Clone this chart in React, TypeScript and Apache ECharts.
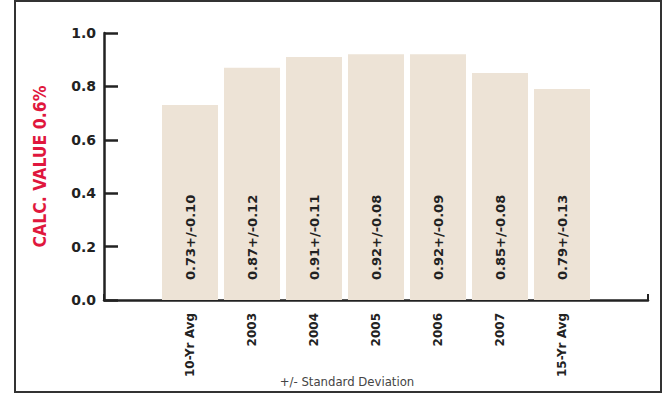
import React, { useEffect, useRef } from "react";
import * as echarts from "echarts";

const categories = ["10-Yr Avg", "2003", "2004", "2005", "2006", "2007", "15-Yr Avg"];
const values = [0.73, 0.87, 0.91, 0.92, 0.92, 0.85, 0.79];
const deviations = ["0.10", "0.12", "0.11", "0.08", "0.09", "0.08", "0.13"];
const yTicks = [0, 0.2, 0.4, 0.6, 0.8, 1.0];

export default function App() {
  const ref = useRef<HTMLDivElement>(null);
  useEffect(() => {
    if (!ref.current) return;
    const chart = echarts.init(ref.current, null, { renderer: "svg" });
    const dark = "#222";
    chart.setOption({
      animation: false,
      backgroundColor: "#fff",
      grid: [
        { left: 104, right: 20, top: 33, bottom: 94 },
        { left: 159, right: 75, top: 33, bottom: 94 },
      ],
      xAxis: [
        {
          gridIndex: 0,
          type: "value",
          min: 0,
          max: 1,
          interval: 1,
          axisLine: { show: true, lineStyle: { color: dark, width: 2.5 } },
          axisTick: { show: true, inside: true, length: 6, lineStyle: { color: dark, width: 2 } },
          axisLabel: { show: false },
          splitLine: { show: false },
        },
        {
          gridIndex: 1,
          type: "category",
          data: categories,
          axisLine: { show: false },
          axisTick: { show: false },
          axisLabel: {
            rotate: 90,
            margin: 13,
            color: dark,
            fontWeight: "bold",
            fontSize: 12,
            fontFamily: "'DejaVu Sans', sans-serif",
            interval: 0,
          },
        },
      ],
      yAxis: [
        {
          gridIndex: 0,
          type: "value",
          min: yTicks[0],
          max: yTicks[yTicks.length - 1],
          interval: 0.2,
          name: "CALC. VALUE 0.6%",
          nameLocation: "middle",
          nameRotate: 90,
          nameGap: 55,
          nameTextStyle: {
            color: "#E0173D",
            fontWeight: "bold",
            fontSize: 17.5,
            fontFamily: "'DejaVu Sans Condensed', sans-serif",
          },
          axisLine: { show: true, lineStyle: { color: dark, width: 2.5 } },
          axisTick: { show: true, inside: true, length: 14, lineStyle: { color: dark, width: 2.5 } },
          axisLabel: {
            color: dark,
            fontWeight: "bold",
            fontSize: 14,
            margin: 8,
            fontFamily: "'DejaVu Sans', sans-serif",
            formatter: (v: number) => v.toFixed(1),
          },
          splitLine: { show: false },
        },
        {
          gridIndex: 1,
          type: "value",
          min: 0,
          max: 1,
          show: false,
        },
      ],
      series: [
        {
          type: "bar",
          xAxisIndex: 1,
          yAxisIndex: 1,
          data: values,
          barWidth: 56,
          itemStyle: { color: "#EDE3D6" },
          label: {
            show: true,
            position: "insideBottom",
            rotate: 90,
            align: "left",
            verticalAlign: "middle",
            distance: 20,
            color: dark,
            fontWeight: "bold",
            fontSize: 13,
            fontFamily: "'DejaVu Sans', sans-serif",
            formatter: (p: any) => values[p.dataIndex].toFixed(2) + "+/-" + deviations[p.dataIndex],
          },
        },
      ],
      graphic: [
        {
          type: "rect",
          shape: { x: 15, y: 1, width: 646, height: 391 },
          style: { fill: "none", stroke: "#333", lineWidth: 2 },
          silent: true,
        },
        {
          type: "text",
          x: 347,
          y: 381,
          style: {
            text: "+/- Standard Deviation",
            fill: "#444",
            fontSize: 13,
            fontFamily: "'Liberation Sans Narrow', 'DejaVu Sans Condensed', sans-serif",
            align: "center",
            verticalAlign: "middle",
          },
        },
      ],
    });
    return () => chart.dispose();
  }, []);
  return (
    <div
      ref={ref}
      style={{ position: "fixed", left: 0, top: 0, width: 668, height: 394 }}
    />
  );
}
